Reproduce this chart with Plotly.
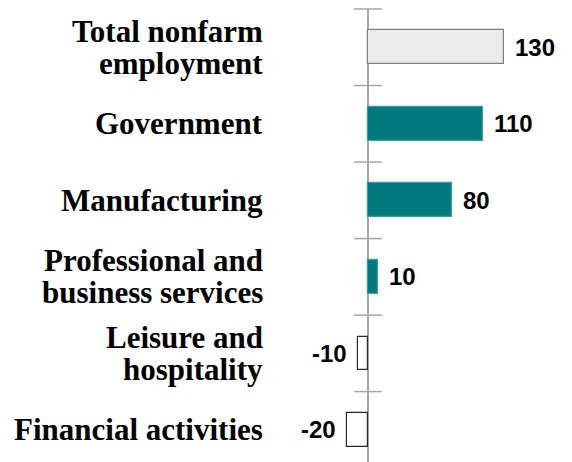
import plotly.graph_objects as go

categories = [
    "Total nonfarm<br>employment",
    "Government",
    "Manufacturing",
    "Professional and<br>business services",
    "Leisure and<br>hospitality",
    "Financial activities",
]
values = [130, 110, 80, 10, -10, -20]
value_labels = ["130", "110", "80", "10", "-10", "-20"]

fills = []
lines = []
for i, v in enumerate(values):
    if i == 0:
        fills.append("#EBEBEB"); lines.append("#7F7F7F")
    elif v > 0:
        fills.append("#007A80"); lines.append("#3A9A9E")
    else:
        fills.append("#FFFFFF"); lines.append("#2A2A2A")

pos = list(range(len(categories)))

fig = go.Figure()
fig.add_trace(go.Bar(
    x=values, y=pos, orientation="h", width=0.44,
    marker=dict(color=fills, line=dict(color=lines, width=1.2)),
    hoverinfo="skip", showlegend=False,
))
# axis tick marks at category boundaries, crossing the zero line
bounds = [p - 0.5 for p in pos] + [pos[-1] + 0.5]
fig.add_trace(go.Scatter(
    x=[0] * len(bounds), y=bounds, mode="markers",
    marker=dict(symbol="line-ew", size=20, line=dict(color="#A6A6A6", width=1.5)),
    cliponaxis=False, hoverinfo="skip", showlegend=False,
))

annotations = []
for p, v, t in zip(pos, values, value_labels):
    annotations.append(dict(
        x=v, y=p, xref="x", yref="y", text=t, showarrow=False,
        xanchor="left" if v >= 0 else "right", xshift=9 if v >= 0 else -9,
        yanchor="middle",
        font=dict(family="Liberation Sans, Arial", size=24, color="#000000", weight="bold"),
    ))
for p, lab in zip(pos, categories):
    parts = lab.split("<br>")
    n = len(parts)
    for k, part in enumerate(parts):
        annotations.append(dict(
            x=0, y=p, xref="paper", yref="y", text=part, showarrow=False,
            xanchor="right", xshift=-15, yanchor="middle",
            yshift=(n - 1) / 2 * 32 - k * 32,
            font=dict(family="Liberation Serif, Times New Roman, serif", size=31,
                      color="#000000", weight="bold"),
        ))

fig.update_layout(
    width=572, height=462,
    margin=dict(l=280, r=0, t=9, b=0),
    paper_bgcolor="white", plot_bgcolor="white",
    annotations=annotations,
    xaxis=dict(range=[-84.1, 195], showticklabels=False, showgrid=False,
               zeroline=True, zerolinecolor="#A6A6A6", zerolinewidth=2, fixedrange=True),
    yaxis=dict(range=[5.42, -0.5], showticklabels=False, showgrid=False,
               zeroline=False, fixedrange=True),
    bargap=0,
)
fig.write_html("out.html", config={"displayModeBar": False},
               post_script="document.body.style.margin='0';document.body.style.overflow='hidden';")
